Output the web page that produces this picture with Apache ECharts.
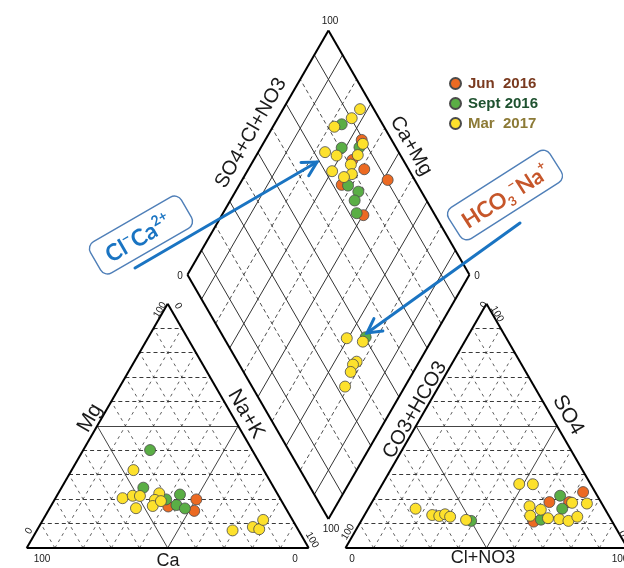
<!DOCTYPE html>
<html><head><meta charset="utf-8">
<script src="https://cdn.jsdelivr.net/npm/echarts@6/dist/echarts.min.js"></script>
<style>html,body{margin:0;padding:0;background:#fff}#c{width:624px;height:568px}</style>
</head><body><div id="c"></div>
<script>
// ---------------- DATA ----------------
const seriesNames = ['Jun  2016', 'Sept 2016', 'Mar  2017'];
// Cation triangle: [Ca %, Mg %]  (Na+K = 100 - Ca - Mg)
const cationsJun  = [[41.3,17.0],[29.9,19.9],[33.0,15.2]];
const cationsSept = [[36.2,40.1],[46.3,24.7],[40.6,19.9],[38.1,17.6],[34.7,21.9],[35.8,16.2]];
const cationsMar  = [[46.2,31.9],[55.8,20.4],[51.7,21.4],[49.2,21.3],[53.1,16.3],[41.8,22.4],[44.7,19.7],[46.7,17.2],[42.8,19.2],[23.4,7.2],[15.5,8.6],[13.7,7.7],[10.4,11.5]];
// Anion triangle: [Cl+NO3 %, SO4 %]  (CO3+HCO3 = 100 - Cl - SO4)
const anionsJun  = [[62.9,18.8],[72.8,22.9],[69.9,18.8],[61.3,10.8]];
const anionsSept = [[39.0,11.1],[65.4,21.4],[68.8,16.1],[63.5,11.6]];
const anionsMar  = [[16.8,16.1],[24.0,13.5],[26.7,13.1],[28.4,13.8],[30.7,12.8],[37.0,11.5],[48.5,26.2],[53.4,26.1],[71.1,18.5],[76.5,18.2],[56.7,17.1],[61.4,15.7],[58.9,13.2],[65.7,12.2],[69.9,11.8],[73.5,11.1],[75.8,12.8]];
// Diamond: [SO4+Cl+NO3 %, Ca+Mg %]
const diamondJun  = [[89.4,65.8],[82.0,65.0],[84.3,58.9],[73.1,63.7],[90.4,48.4],[74.6,49.8]];
const diamondSept = [[85.5,76.1],[87.1,65.1],[80.7,71.3],[75.2,61.3],[77.6,56.4],[74.5,55.9],[72.6,52.6],[50.4,24.0]];
const diamondMar  = [[95.1,72.7],[90.3,73.8],[82.4,78.2],[89.0,64.6],[73.9,76.3],[77.3,71.5],[84.9,64.1],[80.5,64.6],[72.5,69.9],[78.9,62.3],[75.5,64.5],[43.5,30.5],[48.5,24.1],[42.2,22.2],[40.3,22.9],[38.0,22.2],[33.0,21.2]];
const gridSteps = [10,20,30,40,50,60,70,80,90];

// ---------------- GEOMETRY ----------------
const SQ = Math.sqrt(3)/2;
const RX0 = 113.05;          // left corner of anion triangle
const TIP = [107.0, 10.3];   // bottom tip of diamond
const cat = (ca, mg) => [100 - ca - mg/2, mg*SQ];
const ani = (cl, so4) => [RX0 + cl + so4/2, so4*SQ];
const dia = (s, c) => [TIP[0] + 0.5*(s - c), TIP[1] + SQ*(s + c)];

const solid = [], dashedH = [], dashedD = [], outline = [], diamSolid = [], diamDashed = [];
function seg(arr, a, b){ arr.push({coords:[a,b]}); }
// triangles
[cat, ani].forEach(f => {
  const A = f(0,0), B = f(100,0), C = f(0,100);
  seg(outline, A, B); seg(outline, B, C); seg(outline, C, A);
  gridSteps.forEach(k => {
    const h = k === 50 ? solid : dashedH;
    const d = k === 50 ? solid : dashedD;
    seg(h, f(100-k, k), f(0, k));          // constant apex variable
    seg(d, f(k, 0), f(k, 100-k));          // constant first variable
    seg(d, f(100-k, 0), f(0, 100-k));      // constant remaining variable
  });
});
// diamond
seg(outline, dia(0,0), dia(100,0)); seg(outline, dia(100,0), dia(100,100));
seg(outline, dia(100,100), dia(0,100)); seg(outline, dia(0,100), dia(0,0));
gridSteps.forEach(k => {
  const arr = (k/10) % 2 === 1 ? diamSolid : diamDashed;
  seg(arr, dia(k,0), dia(k,100));
  seg(arr, dia(0,k), dia(100,k));
});

const colors = ['#ec6a22', '#5aae45', '#fde12c'];
const txtColors = ['#7a3a1f', '#1f5230', '#8c7a36'];
const groups = [
  [cationsJun, anionsJun, diamondJun],
  [cationsSept, anionsSept, diamondSept],
  [cationsMar, anionsMar, diamondMar]
];

const linesSeries = (data, width, type, color) => ({
  type: 'lines', coordinateSystem: 'cartesian2d', silent: true, z: 1,
  data: data, lineStyle: {color: color || '#111', width: width, type: type, opacity: 1}
});

const series = [
  linesSeries(dashedH, 0.9, [4,3], '#222'),
  linesSeries(dashedD, 0.8, [3,4], '#333'),
  linesSeries(diamDashed, 0.8, [4,3], '#222'),
  linesSeries(solid, 1, 'solid', '#444'),
  linesSeries(diamSolid, 1, 'solid', '#333'),
  linesSeries(outline, 2, 'solid', '#000')
];
groups.forEach((g, i) => {
  const pts = [].concat(g[0].map(p => cat(p[0], p[1])), g[1].map(p => ani(p[0], p[1])), g[2].map(p => dia(p[0], p[1])));
  series.push({
    type: 'scatter', name: seriesNames[i], data: pts, symbol: 'circle', symbolSize: 11, z: 5 + i,
    itemStyle: {color: colors[i], borderColor: '#4a4a4a', borderWidth: 0.8, opacity: 1},
    emphasis: {disabled: true}
  });
});

const FONT = '"Liberation Sans", Arial, sans-serif';
const labels = [
  ['100', 330, 21, 0, 10], ['0', 180, 276, 0, 10], ['0', 477, 276, 0, 10], ['100', 331, 529, 0, 10],
  ['SO4+Cl+NO3', 251, 133, 60, 20], ['Ca+Mg', 411, 146, -60, 20],
  ['Mg', 90, 418, 60, 21], ['Na+K', 246, 414, -60, 21], ['Ca', 168, 561, 0, 18],
  ['100', 42, 559, 0, 10], ['0', 295, 559, 0, 10], ['100', 160, 310, 60, 10], ['0', 178, 306, -60, 10],
  ['0', 29, 531, 60, 10], ['100', 312, 540, -60, 10],
  ['CO3+HCO3', 415, 410, 60, 20], ['SO4', 568, 415, -60, 21], ['Cl+NO3', 483, 558, 0, 18],
  ['0', 352, 559, 0, 10], ['100', 620, 559, 0, 10], ['100', 348, 532, 60, 10],
  ['0', 484, 305, 60, 10], ['100', 497, 314, -60, 10], ['0', 622, 534, -60, 10]
];
const graphic = labels.map(l => ({
  type: 'text', x: l[1], y: l[2], rotation: l[3]*Math.PI/180, z: 10,
  style: {text: l[0], font: l[4] + 'px ' + FONT, fill: '#1a1a1a', align: 'center', verticalAlign: 'middle', textAlign: 'center', textVerticalAlign: 'middle'}
}));

function arrow(x1, y1, x2, y2, color) {
  const ang = Math.atan2(y2 - y1, x2 - x1), L = 16, a = 0.5;
  return [
    {type: 'line', z: 20, shape: {x1, y1, x2, y2}, style: {stroke: color, lineWidth: 3, lineCap: 'round'}},
    {type: 'polyline', z: 20, shape: {points: [
      [x2 - L*Math.cos(ang - a), y2 - L*Math.sin(ang - a)], [x2, y2],
      [x2 - L*Math.cos(ang + a), y2 - L*Math.sin(ang + a)]]},
      style: {stroke: color, lineWidth: 3, fill: null, lineJoin: 'miter', lineCap: 'round'}}
  ];
}
function box(cx, cy, w, h, deg, text, rich, tx, ty) {
  return {
    type: 'group', x: cx, y: cy, rotation: deg*Math.PI/180, z: 15,
    children: [
      {type: 'rect', z: 15, shape: {x: -w/2, y: -h/2, width: w, height: h, r: 8},
        style: {fill: '#fff', stroke: '#4f7fb8', lineWidth: 1.4}},
      {type: 'text', z: 16, x: tx, y: ty, style: {text: text, rich: rich, align: 'center', verticalAlign: 'middle', textAlign: 'center', textVerticalAlign: 'middle'}}
    ]
  };
}
const AF = 'Lato, "Open Sans", sans-serif';
const blue = '#1a74c2', brown = '#c6562a';
const richCl = {
  m: {fontSize: 23, fontWeight: 'bold', fontFamily: AF, fill: blue, color: blue, lineHeight: 28},
  sup: {fontSize: 14, fontWeight: 'bold', fontFamily: AF, fill: blue, color: blue, verticalAlign: 'top', lineHeight: 28}
};
const richHC = {
  m: {fontSize: 22, fontWeight: 'bold', fontFamily: AF, fill: brown, color: brown, lineHeight: 28},
  sup: {fontSize: 13, fontWeight: 'bold', fontFamily: AF, fill: brown, color: brown, verticalAlign: 'top', lineHeight: 28},
  sub: {fontSize: 13, fontWeight: 'bold', fontFamily: AF, fill: brown, color: brown, verticalAlign: 'bottom', lineHeight: 28}
};
graphic.push(box(141, 235, 105, 36, 30, '{m|Cl}{sup|\u2212}{m|Ca}{sup|2+}', richCl, -4, 2));
graphic.push(box(505, 195, 120, 37, 32.5, '{m|HCO}{sub|3}{sup|\u2212}{m|Na}{sup|+}', richHC, 0, 2));
graphic.push(...arrow(135, 268, 317, 162, blue));
graphic.push(...arrow(520, 223, 367, 333, blue));

const chart = echarts.init(document.getElementById('c'), null, {renderer: 'canvas'});
const PX = 2.82;
chart.setOption({
  animation: false,
  backgroundColor: '#fff',
  grid: {left: 0, right: 0, top: 0, bottom: 0, containLabel: false},
  xAxis: {type: 'value', min: -26.7/PX, max: -26.7/PX + 624/PX, show: false},
  yAxis: {type: 'value', min: -20/PX, max: -20/PX + 568/PX, show: false},
  legend: {
    orient: 'vertical', left: 444, top: 71, icon: 'circle', itemWidth: 11, itemHeight: 11, itemGap: 5,
    selectedMode: false,
    textStyle: {fontFamily: FONT, fontWeight: 'bold', fontSize: 15, padding: [0,0,0,2]},
    data: seriesNames.map((n, i) => ({name: n, textStyle: {color: txtColors[i]}}))
  },
  series: series,
  graphic: graphic
});
</script></body></html>
